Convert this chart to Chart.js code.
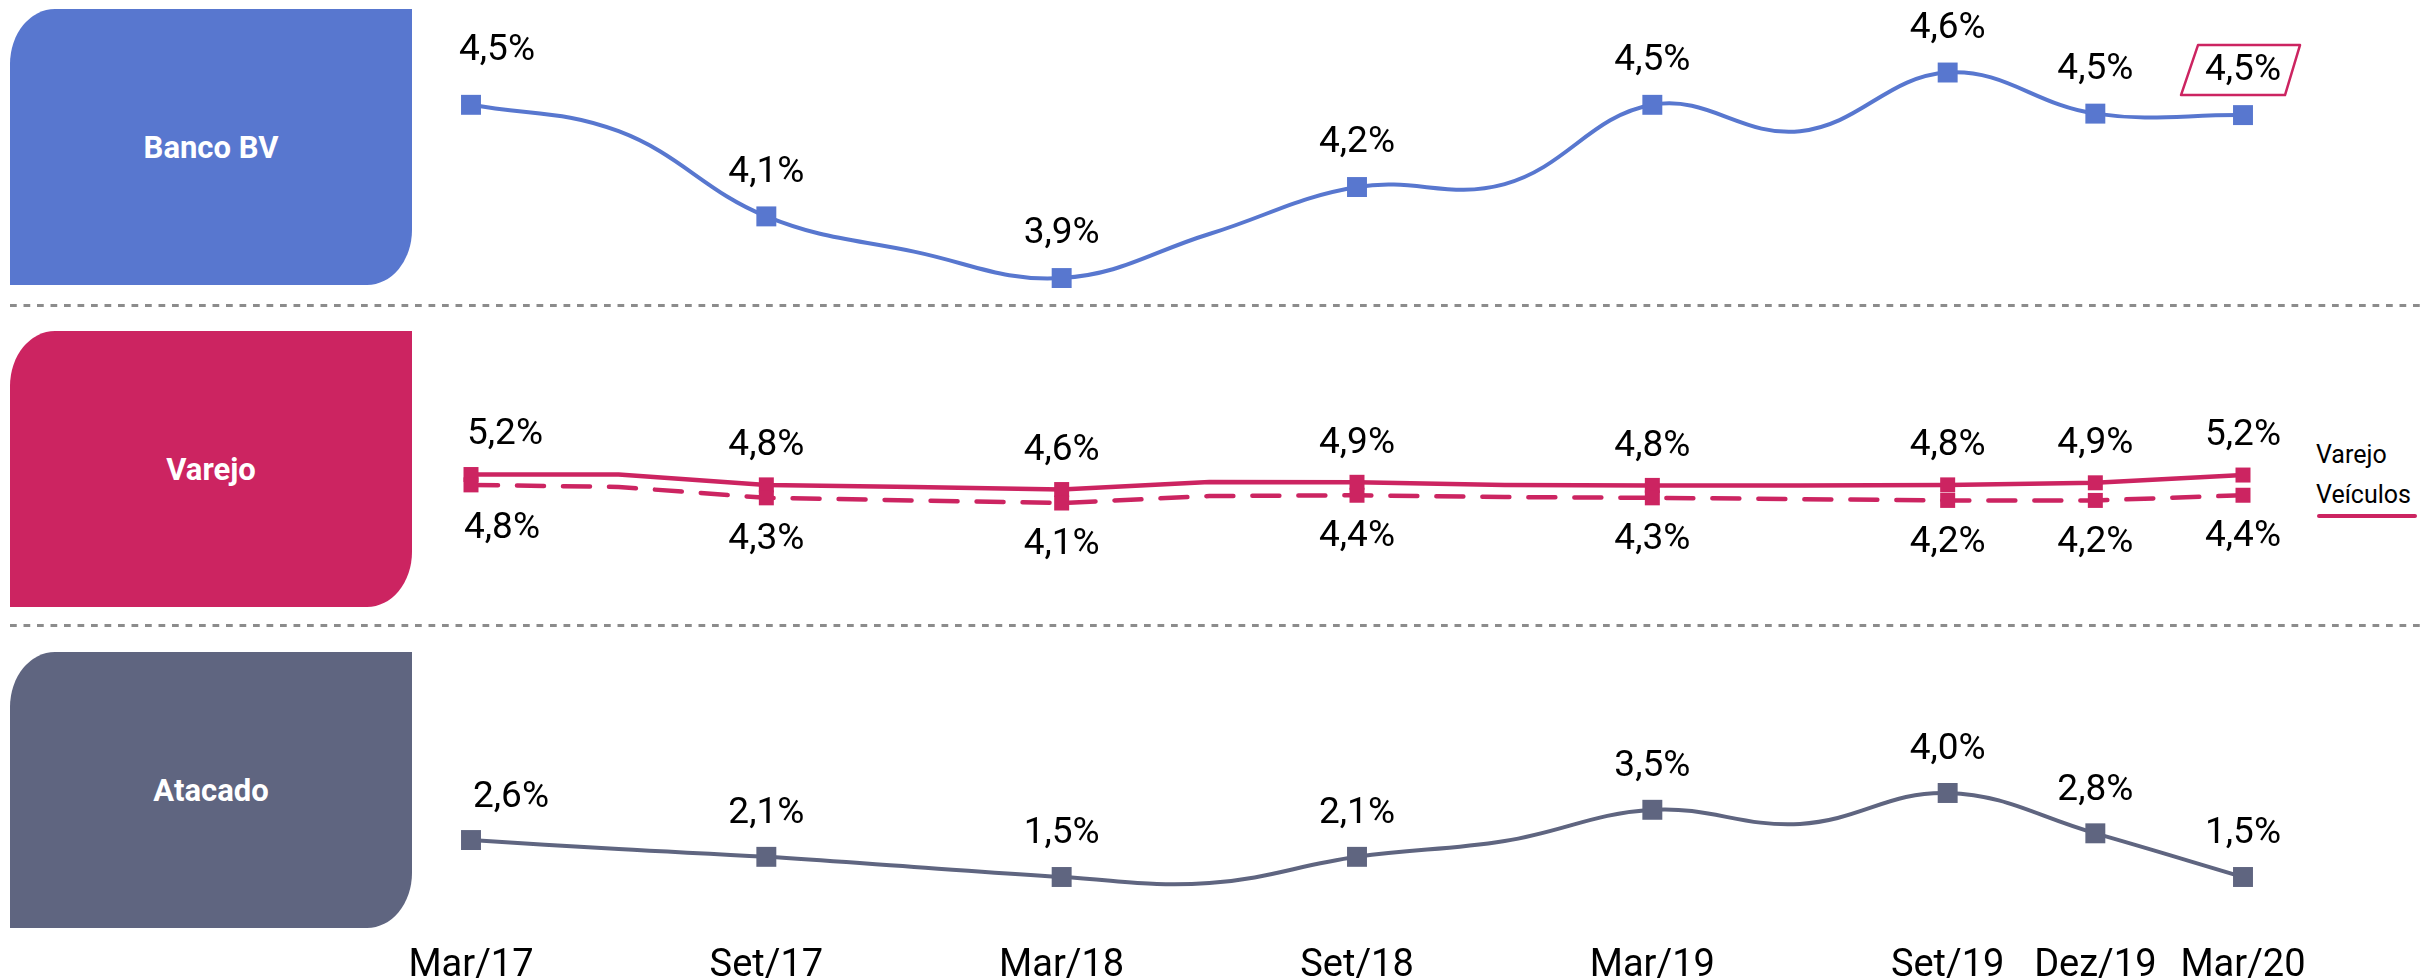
<!DOCTYPE html>
<html lang="pt-BR">
<head>
<meta charset="UTF-8">
<title>Inadimplência por segmento</title>
<script src="https://cdn.jsdelivr.net/npm/chart.js"></script>
<style>
  body { margin: 0; background: #fff; font-family: Roboto, sans-serif; }
  #wrap { position: relative; width: 2420px; height: 979px; }
  .box {
    position: absolute; left: 10px; width: 402px; height: 276px;
    color: #fff; font-weight: bold; font-size: 31px;
    display: flex; align-items: center; justify-content: center;
    border-top-left-radius: 45px 55px; border-bottom-right-radius: 45px 55px;
  }
  .sep {
    position: absolute; left: 10px; right: 0; height: 3px;
    background-image: linear-gradient(to right, #8c8c8c 7px, transparent 7px);
    background-size: 13.5px 3px;
  }
  .leg { position: absolute; left: 2316px; font-size: 25px; line-height: 25px; color: #000; }
  #chart { position: absolute; left: 0; top: 0; }
</style>
</head>
<body>
<div id="wrap">
  <div class="box" style="top:9px; background:#5877cf;">Banco BV</div>
  <div class="sep" style="top:304px;"></div>
  <div class="box" style="top:331px; background:#cc2461;">Varejo</div>
  <div class="sep" style="top:624px;"></div>
  <div class="box" style="top:652px; background:#5f6580;">Atacado</div>

  <div class="leg" style="top:442px;">Varejo</div>
  <div class="leg" style="top:482px;">Veículos</div>
  <div style="position:absolute; left:2317px; top:514px; width:100px; height:4px; border-radius:2px; background:#cc2461;"></div>

  <canvas id="chart" width="2420" height="979"></canvas>
</div>

<script>
// trimestres (só alguns aparecem no eixo)
const quarters = ['Mar/17', 'Jun/17', 'Set/17', 'Dez/17', 'Mar/18', 'Jun/18', 'Set/18',
                  'Dez/18', 'Mar/19', 'Jun/19', 'Set/19', 'Dez/19', 'Mar/20'];
const tickLabels = ['Mar/17', 'Set/17', 'Mar/18', 'Set/18', 'Mar/19', 'Set/19', 'Dez/19', 'Mar/20'];

const bancoBV  = [4.49, 4.40, 4.11, 3.99, 3.90, 4.05, 4.21, 4.22, 4.49, 4.40, 4.60, 4.46, 4.455];
const varejo   = [5.20, 5.20, 4.80, 4.72, 4.62, 4.91, 4.90, 4.80, 4.78, 4.78, 4.80, 4.88, 5.18];
const veiculos = [4.80, 4.72, 4.30, 4.20, 4.10, 4.37, 4.40, 4.33, 4.30, 4.25, 4.20, 4.20, 4.40];
const atacado  = [2.60, 2.33, 2.10, 1.80, 1.50, 1.32, 2.10, 2.57, 3.50, 3.08, 4.00, 2.80, 1.50];

const BLUE = '#5877cf', RED = '#cc2461', SLATE = '#5f6580';

function radii(r) {
    return quarters.map(q => tickLabels.includes(q) ? r : 0);
}

function fmt(v) {
    return v.toFixed(1).replace('.', ',') + '%';
}

// rótulos de valor em cima/embaixo dos marcadores
const valueLabels = {
    id: 'valueLabels',
    afterDatasetsDraw(chart) {
        const ctx = chart.ctx;
        chart.data.datasets.forEach((ds, i) => {
            const meta = chart.getDatasetMeta(i);
            meta.data.forEach((pt, j) => {
                if (!tickLabels.includes(quarters[j])) return;
                const x = pt.x + (j === 0 ? ds.firstDx : 0);
                const y = pt.y + (j === 0 ? ds.firstDy : ds.labelDy);
                ctx.save();
                ctx.font = '37px Roboto';
                ctx.fillStyle = '#000';
                ctx.textAlign = 'center';
                ctx.textBaseline = 'middle';
                ctx.fillText(fmt(ds.data[j]), x, y);
                if (ds.highlightLast && j === ds.data.length - 1) {
                    ctx.strokeStyle = RED;
                    ctx.lineWidth = 2.5;
                    ctx.lineJoin = 'round';
                    ctx.beginPath();
                    ctx.moveTo(x - 45, y - 26);
                    ctx.lineTo(x + 57, y - 26);
                    ctx.lineTo(x + 42, y + 24);
                    ctx.lineTo(x - 62, y + 24);
                    ctx.closePath();
                    ctx.stroke();
                }
                ctx.restore();
            });
        });
    }
};

Chart.defaults.font.family = 'Roboto';

new Chart(document.getElementById('chart'), {
    type: 'line',
    data: {
        labels: quarters,
        datasets: [
            {
                label: 'Banco BV', data: bancoBV, yAxisID: 'yBV',
                borderColor: BLUE, borderWidth: 4, tension: 0.4,
                pointStyle: 'rect', pointRadius: radii(14.1), pointBackgroundColor: BLUE, pointBorderWidth: 0,
                clip: false, labelDy: -44, firstDx: 26, firstDy: -54, highlightLast: true
            },
            {
                label: 'Veículos', data: veiculos, yAxisID: 'yVar',
                borderColor: RED, borderWidth: 4.5, tension: 0, borderDash: [27, 19], borderCapStyle: 'round',
                pointStyle: 'rect', pointRadius: radii(10.6), pointBackgroundColor: RED, pointBorderWidth: 0,
                clip: false, labelDy: 42, firstDx: 31, firstDy: 44
            },
            {
                label: 'Varejo', data: varejo, yAxisID: 'yVar',
                borderColor: RED, borderWidth: 4.5, tension: 0,
                pointStyle: 'rect', pointRadius: radii(10.6), pointBackgroundColor: RED, pointBorderWidth: 0,
                clip: false, labelDy: -39, firstDx: 34, firstDy: -40
            },
            {
                label: 'Atacado', data: atacado, yAxisID: 'yAt',
                borderColor: SLATE, borderWidth: 4, tension: 0.4,
                pointStyle: 'rect', pointRadius: radii(14.1), pointBackgroundColor: SLATE, pointBorderWidth: 0,
                clip: false, labelDy: -43, firstDx: 40, firstDy: -42
            }
        ]
    },
    options: {
        responsive: false,
        animation: false,
        events: [],
        layout: { autoPadding: false, padding: { left: 471, right: 177, top: 0, bottom: 0 } },
        plugins: { legend: { display: false }, tooltip: { enabled: false } },
        scales: {
            x: {
                type: 'category',
                offset: false,
                grid: { display: false, drawTicks: false },
                border: { display: false },
                ticks: {
                    autoSkip: false, maxRotation: 0, padding: 25, color: '#000',
                    font: { size: 38 },
                    callback: (v, i) => tickLabels.includes(quarters[i]) ? quarters[i] : ''
                },
                afterFit: s => { s.height = 60; }
            },
            yBV:  { display: false, min: 1.717, max: 4.847 },
            yVar: { display: false, min: -11.96, max: 23.52 },
            yAt:  { display: false, min: 0.25, max: 27.60 }
        }
    },
    plugins: [valueLabels]
});
</script>
</body>
</html>
